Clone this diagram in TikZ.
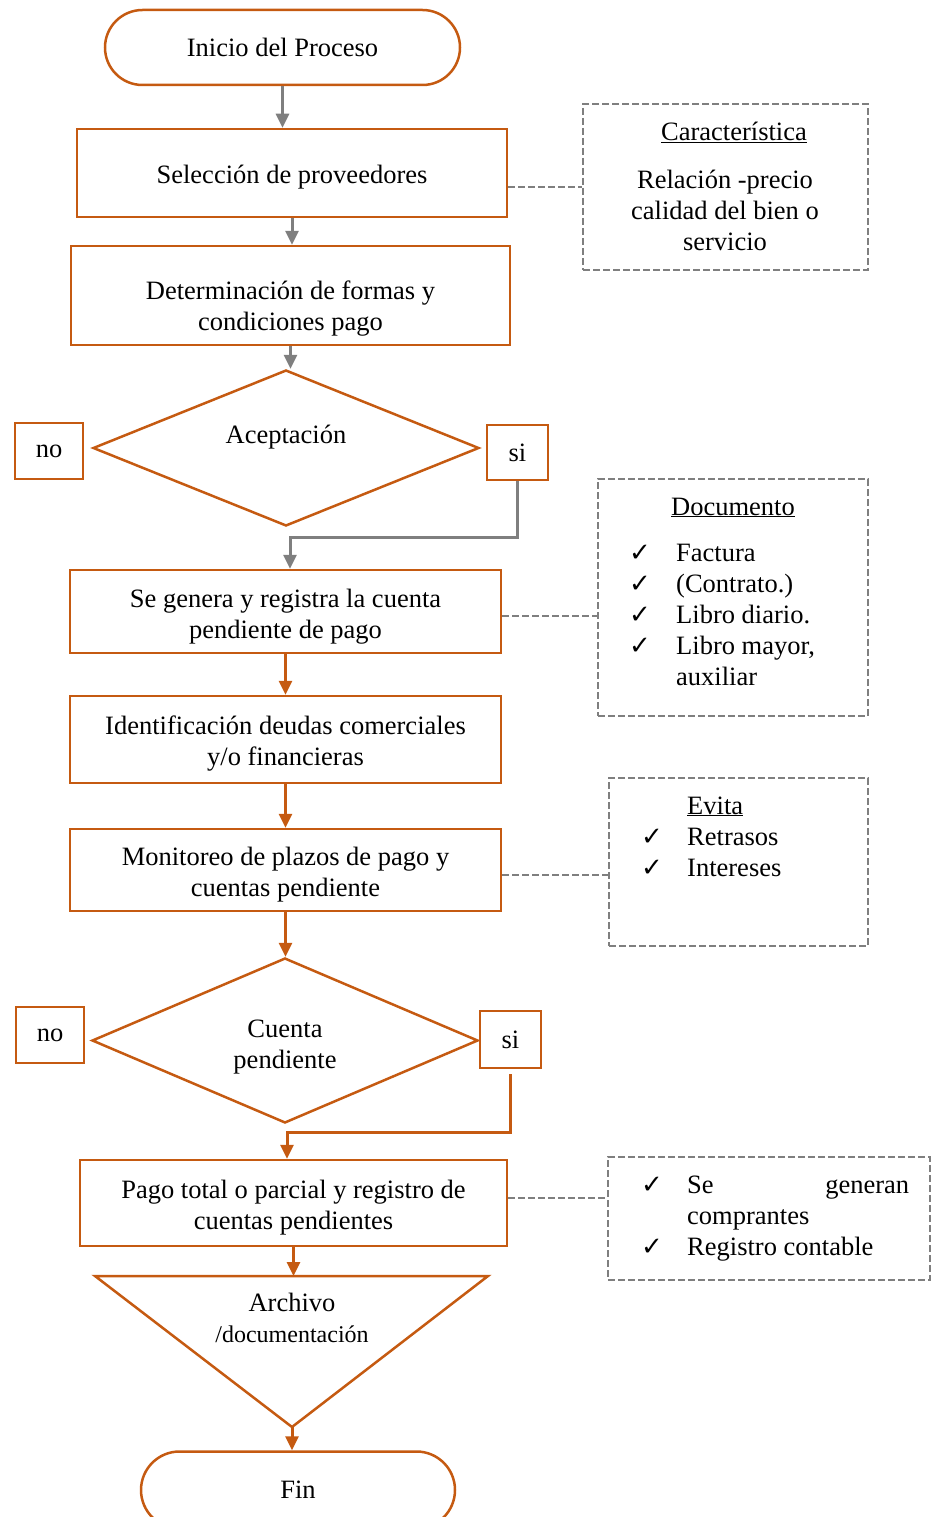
\documentclass[tikz,border=0pt]{standalone}
\usepackage{fontspec}
\setmainfont{Liberation Serif}
\newfontfamily\simbolos{DejaVu Sans}
\usetikzlibrary{shapes.geometric,shapes.misc,arrows.meta}
\definecolor{naranja}{HTML}{C55A11}
\definecolor{gris}{HTML}{7F7F7F}
\newcommand{\letra}{\fontsize{26.5pt}{31pt}\selectfont}
\newcommand{\chk}{{\simbolos\fontsize{26pt}{31pt}\selectfont ✓}}
\begin{document}
\begin{tikzpicture}[x=1pt,y=-1pt,
	every node/.style={font=\letra},
	caja/.style={rectangle,draw=naranja,line width=2.5pt,align=center,inner sep=0pt},
	bajar/.style={execute at begin node={\rule{0pt}{#1}}},
	terminal/.style={rounded rectangle,draw=naranja,line width=2.5pt,inner sep=0pt},
	decision/.style={diamond,aspect=2.5,draw=naranja,line width=2.5pt,align=center,inner sep=0pt},
	nota/.style={rectangle,draw=gris,line width=2pt,dash pattern=on 7pt off 3pt,inner sep=0pt},
	flechagris/.style={draw=gris,line width=3pt,-{Triangle[length=14pt,width=13pt]}},
	flechanaranja/.style={draw=naranja,line width=3pt,-{Triangle[length=14pt,width=13pt]}},
	enlace/.style={draw=gris,line width=2pt,dash pattern=on 7pt off 3pt},
	lista/.style={anchor=base west,inner sep=0pt}]
	\useasboundingbox (0,0) rectangle (932,1517);
	\clip (0,0) rectangle (932,1517);
	% flujo principal
	\node (inicio) [terminal,minimum width=355pt,minimum height=75pt] at (282.5,47.5) {Inicio del Proceso};
	\node (selec) [caja,bajar=26pt,minimum width=430pt,minimum height=88pt] at (292,173) {Selección de proveedores};
	\node (determ) [caja,bajar=76pt,minimum width=439pt,minimum height=99pt] at (290.5,295.5) {Determinación de formas y\\condiciones pago};
	\node (decision1) [decision,minimum width=386pt,minimum height=156pt] at (286,448) {};
	\node (aceptxt) at (286,437) {Aceptación};
	\node (no1) [caja,minimum width=68pt,minimum height=56pt] at (49,451) {no};
	\node (si1) [caja,minimum width=61pt,minimum height=55pt] at (517.5,452.5) {si};
	\coordinate (codo1) at (290,537);
	\node (genera) [caja,bajar=59pt,minimum width=431pt,minimum height=83pt] at (285.5,611.5) {Se genera y registra la cuenta\\pendiente de pago};
	\node (identif) [caja,bajar=57pt,minimum width=431pt,minimum height=87pt] at (285.5,739.5) {Identificación deudas comerciales\\y/o financieras};
	\node (monit) [caja,bajar=59pt,minimum width=431pt,minimum height=82pt] at (285.5,870) {Monitoreo de plazos de pago y\\cuentas pendiente};
	\node (decision2) [decision,bajar=61pt,minimum width=386pt,minimum height=165pt] at (285,1040.5) {Cuenta\\pendiente};
	\node (no2) [caja,minimum width=68pt,minimum height=56pt] at (50,1035) {no};
	\node (si2) [caja,minimum width=61pt,minimum height=57pt] at (510.5,1039.5) {si};
	\coordinate (codo2) at (287,1132);
	\node (pago) [caja,bajar=59pt,minimum width=427pt,minimum height=86pt] at (293.5,1203) {Pago total o parcial y registro de\\cuentas pendientes};
	% archivo
	\coordinate (archizq) at (95,1276);
	\coordinate (archder) at (488,1276);
	\coordinate (archtope) at (292,1276);
	\coordinate (archpunta) at (292,1427);
	\draw[naranja,line width=2.5pt] (archizq) -- (archder) -- (archpunta) -- cycle;
	\node (archtxt) [align=center] at (292,1318) {Archivo\\{\fontsize{24pt}{29pt}\selectfont /documentación}};
	\node (fin) [terminal,minimum width=314pt,minimum height=77pt] at (298,1490) {Fin};
	% notas
	\node (caract) [nota,minimum width=285pt,minimum height=166pt] at (725.5,187) {};
	\node (cartit) [anchor=base] at (734,141) {\underline{Característica}};
	\node (cartxt) [align=center] at (725,210) {Relación -precio\\calidad del bien o\\servicio};
	\node (docum) [nota,minimum width=270pt,minimum height=237pt] at (733,597.5) {};
	\node (doctit) [anchor=base] at (733,515) {\underline{Documento}};
	\node (doclista) [lista] at (629,561) {\begin{tabular}[t]{@{}p{47pt}@{}l@{}}
		\chk & Factura\\ \chk & (Contrato.)\\ \chk & Libro diario.\\ \chk & Libro mayor,\\ & auxiliar\end{tabular}};
	\node (evita) [nota,minimum width=259pt,minimum height=168pt] at (738.5,862) {};
	\node (evilista) [lista] at (641,814) {\begin{tabular}[t]{@{}p{46pt}@{}l@{}}
		& \underline{Evita}\\ \chk & Retrasos\\ \chk & Intereses\end{tabular}};
	\node (registro) [nota,minimum width=322pt,minimum height=123pt] at (769,1218.5) {};
	\node (reglista) [lista] at (641,1193) {\begin{tabular}[t]{@{}p{46pt}@{}l@{}}
		\chk & \makebox[222pt][l]{Se\hfill generan}\\ & comprantes\\ \chk & Registro contable\end{tabular}};
	% conectores
	\draw[flechagris] (inicio.south) -- (inicio.south |- selec.north);
	\draw[flechagris] (selec.south) -- (selec.south |- determ.north);
	\draw[flechagris] (determ.south) -- (determ.south |- decision1.north);
	\draw[flechagris] (si1.south) |- (codo1) -- (codo1 |- genera.north);
	\draw[flechanaranja] (genera.south) -- (identif.north);
	\draw[flechanaranja] (identif.south) -- (monit.north);
	\draw[flechanaranja] (monit.south) -- (monit.south |- decision2.north);
	\draw[flechanaranja] ([yshift=-5pt]si2.south) |- (codo2) -- (codo2 |- pago.north);
	\draw[flechanaranja] (pago.south) -- (pago.south |- archtope);
	\draw[flechanaranja] (archpunta) -- (archpunta |- fin.north);
	\draw[enlace] (selec.east |- caract.west) -- (caract.west);
	\draw[enlace] ([yshift=-4pt]genera.east) -- ([yshift=-4pt]genera.east -| docum.west);
	\draw[enlace] ([yshift=-5pt]monit.east) -- ([yshift=-5pt]monit.east -| evita.west);
	\draw[enlace] ([yshift=5pt]pago.east) -- ([yshift=5pt]pago.east -| registro.west);
\end{tikzpicture}
\end{document}
